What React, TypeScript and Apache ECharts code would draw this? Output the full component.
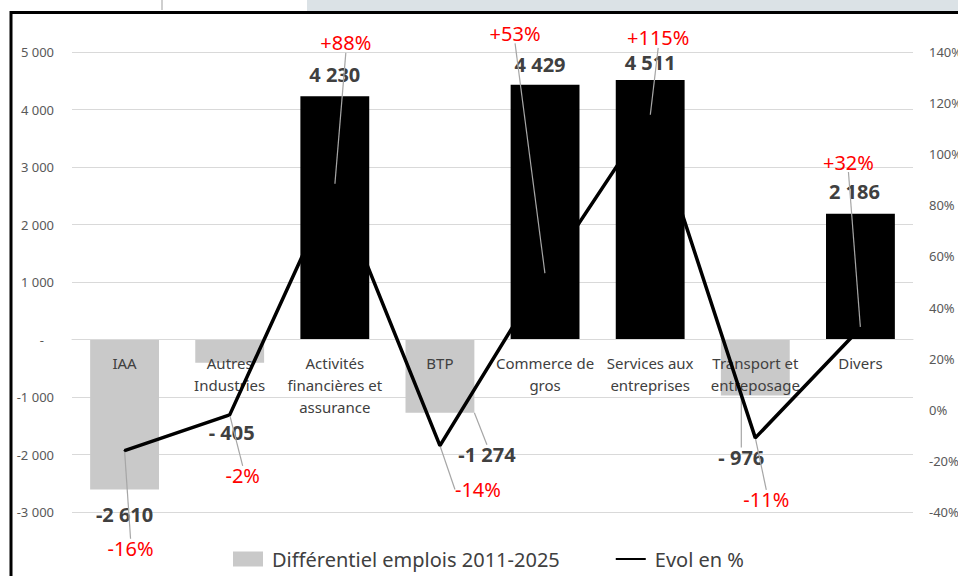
import React, { useEffect, useRef } from "react";
import * as echarts from "echarts";

const categories = [
  "IAA",
  "Autres\nIndustries",
  "Activités\nfinancières et\nassurance",
  "BTP",
  "Commerce de\ngros",
  "Services aux\nentreprises",
  "Transport et\nentreposage",
  "Divers",
];
const jobDiff = [-2610, -405, 4230, -1274, 4429, 4511, -976, 2186];
const evolPct = [-16, -2, 88, -14, 53, 115, -11, 32];

const leftAxis = { min: -3000, max: 5000, interval: 1000 };
const rightAxis = { min: -40, max: 140, interval: 20 };

const seriesNames = ["Différentiel emplois 2011-2025", "Evol en %"];

// label offsets (styling: where Excel labels were dragged)
const barLabelOffsets = [
  [0, 25], [2, 70], [0, -22], [47, 42], [-5, -20], [0, -18], [-14, 62], [-6, -22],
];
const pctLabelOffsets = [
  [6, 98], [13, 61], [11, -142], [38, 44], [-30, -241], [8, -78], [11, 62], [-12, -166],
];
const barLeader = [false, false, false, true, false, false, true, false];

const FONT = "Noto Sans";
const GRID = { left: 72, right: 45, top: 52, bottom: 64 };
const CHART_H = 576;

function groupThousands(a: number): string {
  const s = String(Math.round(a));
  return s.replace(/\B(?=(\d{3})+(?!\d))/g, " ");
}
function fmtJobs(v: number): string {
  if (v === 0) return "-";
  if (v < 0) {
    const a = Math.abs(v);
    return a < 1000 ? "- " + a : "-" + groupThousands(a);
  }
  return groupThousands(v);
}

export default function App() {
  const ref = useRef<HTMLDivElement>(null);
  useEffect(() => {
    if (!ref.current) return;
    const chart = echarts.init(ref.current, null, { renderer: "svg" });
    const plotH = CHART_H - GRID.top - GRID.bottom;
    // move the category axis up to the zero line of the left axis
    const zeroOffset = -((0 - leftAxis.min) / (leftAxis.max - leftAxis.min)) * plotH;
    const option: any = {
      animation: false,
      backgroundColor: "#ffffff",
      textStyle: { fontFamily: FONT },
      grid: {
        ...GRID,
        containLabel: false,
        outerBoundsMode: "none",
      },
      legend: {
        left: 228,
        top: 544,
        itemWidth: 30,
        itemHeight: 15,
        itemGap: 55,
        textStyle: { fontSize: 20, color: "#404040", fontFamily: FONT, padding: [0, 0, 0, 4] },
        data: [
          { name: seriesNames[0], icon: "rect" },
          { name: seriesNames[1], itemStyle: { opacity: 0 } },
        ],
      },
      xAxis: {
        type: "category",
        data: categories,
        z: 3,
        position: "bottom",
        offset: zeroOffset,
        axisLine: { onZero: false, lineStyle: { color: "#d9d9d9", width: 1 } },
        axisTick: { show: false },
        axisLabel: {
          interval: 0,
          fontSize: 15,
          lineHeight: 22,
          color: "#404040",
          margin: 12,
          fontFamily: FONT,
        },
      },
      yAxis: [
        {
          type: "value",
          min: leftAxis.min,
          max: leftAxis.max,
          interval: leftAxis.interval,
          axisLine: { show: false },
          axisTick: { show: false },
          splitLine: { lineStyle: { color: "#d9d9d9", width: 1 } },
          axisLabel: {
            fontSize: 13,
            color: "#595959",
            margin: 18,
            fontFamily: FONT,
            formatter: (v: number) => (v === 0 ? "{z|-}" : fmtJobs(v)),
            rich: { z: { padding: [0, 10, 0, 0], fontSize: 13, color: "#595959" } },
          },
        },
        {
          type: "value",
          min: rightAxis.min,
          max: rightAxis.max,
          interval: rightAxis.interval,
          position: "right",
          axisLine: { show: false },
          axisTick: { show: false },
          splitLine: { show: false },
          axisLabel: {
            fontSize: 13,
            color: "#595959",
            margin: 16,
            fontFamily: FONT,
            formatter: "{value}%",
          },
        },
      ],
      series: [
        {
          name: seriesNames[0],
          type: "bar",
          yAxisIndex: 0,
          barWidth: "65.5%",
          z: 2,
          itemStyle: { color: "#c9c9c9" },
          data: jobDiff.map((v, i) => ({
            value: v,
            itemStyle: { color: v >= 0 ? "#000000" : "#c9c9c9" },
            labelLine: { show: barLeader[i], lineStyle: { color: "#a6a6a6", width: 1.2 } },
          })),
          label: {
            show: true,
            position: "top",
            fontSize: 20,
            fontWeight: "bold",
            color: "#404040",
            fontFamily: FONT,
            formatter: (p: any) => fmtJobs(p.value),
          },
          labelLayout: (p: any) => {
            const v = jobDiff[p.dataIndex];
            const [dx, dy] = barLabelOffsets[p.dataIndex];
            const r = p.rect;
            const yEnd = v >= 0 ? r.y : r.y + r.height;
            return {
              x: r.x + r.width / 2 + dx,
              y: yEnd + dy,
              align: "center",
              verticalAlign: "middle",
            };
          },
        },
        {
          name: seriesNames[1],
          type: "line",
          yAxisIndex: 1,
          z: 5,
          data: evolPct,
          symbol: "circle",
          symbolSize: 2,
          itemStyle: { color: "#000000" },
          lineStyle: { color: "#000000", width: 3.5 },
          label: {
            show: true,
            position: "top",
            fontSize: 20,
            color: "#ff0000",
            fontFamily: FONT,
            formatter: (p: any) => (p.value > 0 ? "+" : "") + p.value + "%",
          },
          labelLine: { show: true, lineStyle: { color: "#a6a6a6", width: 1.2 } },
          labelLayout: (p: any) => {
            const [dx, dy] = pctLabelOffsets[p.dataIndex];
            const r = p.rect;
            return {
              x: r.x + r.width / 2 + dx,
              y: r.y + r.height / 2 + dy,
              align: "center",
              verticalAlign: "middle",
            };
          },
        },
      ],
      graphic: [
        { type: "rect", left: 307, top: 0, shape: { width: 651, height: 11 }, style: { fill: "#dbe2e6" }, silent: true },
        { type: "line", shape: { x1: 162, y1: 0, x2: 162, y2: 10 }, style: { stroke: "#cfcfcf", lineWidth: 2 }, silent: true },
        {
          type: "polyline",
          shape: { points: [[11, 576], [11, 12.5], [958, 12.5]] },
          style: { stroke: "#000000", lineWidth: 3, fill: null },
          silent: true,
        },
      ],
    };
    chart.setOption(option);
    return () => chart.dispose();
  }, []);
  return (
    <div
      ref={ref}
      style={{ position: "absolute", left: 0, top: 0, width: 958, height: CHART_H }}
    />
  );
}
